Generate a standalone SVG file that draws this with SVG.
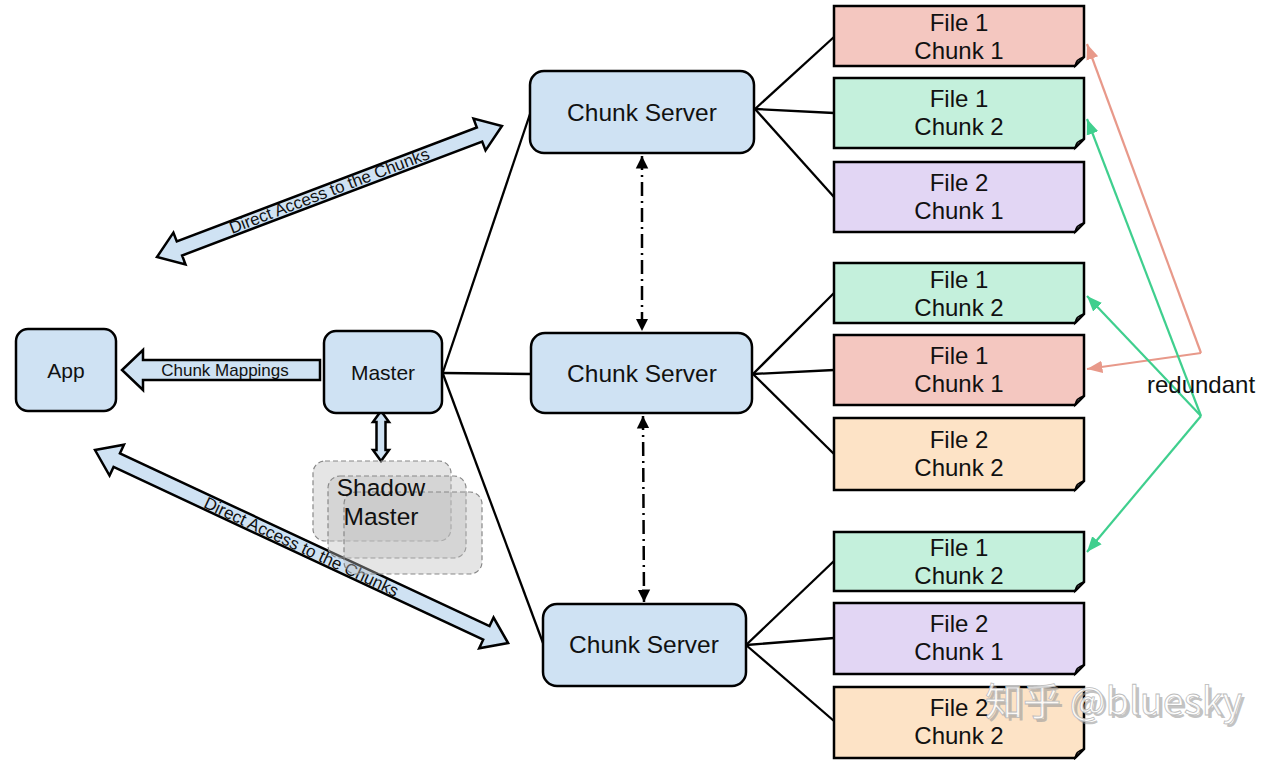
<svg xmlns="http://www.w3.org/2000/svg" width="1280" height="760" viewBox="0 0 1280 760">
<defs>
<style>
.node{fill:#cfe2f3;stroke:#000;stroke-width:2.5}
.t{font-family:"Liberation Sans",Arial,sans-serif;fill:#111;text-anchor:middle}
.ft{font-family:"Liberation Sans",Arial,sans-serif;fill:#111;text-anchor:middle;font-size:24px}
.file{stroke:#000;stroke-width:2.5}
.fold{fill:#fff;stroke:#000;stroke-width:1.5}
.conn{stroke:#000;stroke-width:2.3;fill:none}
.blk{fill:#cfe2f3;stroke:#000;stroke-width:2.5;stroke-linejoin:miter}
.dd{stroke:#000;stroke-width:2.5;fill:none;stroke-dasharray:14 5 2 5}
.red{fill:#f4c7c0}.grn{fill:#c4f0dc}.pur{fill:#e2d6f4}.org{fill:#fde3c6}
.shadow{fill:#bdbdbd;fill-opacity:0.4;stroke:#888;stroke-width:1.2;stroke-dasharray:5 3}
</style>
<marker id="ah" viewBox="0 0 10 10" refX="10" refY="5" markerWidth="5" markerHeight="6" orient="auto-start-reverse" markerUnits="strokeWidth"><path d="M0,0 L10,5 L0,10 Z" fill="#000"/></marker>
<marker id="as" viewBox="0 0 10 10" refX="10" refY="5" markerWidth="7" markerHeight="7" orient="auto"><path d="M0,1 L10,5 L0,9 Z" fill="#e8998a"/></marker>
<marker id="ag" viewBox="0 0 10 10" refX="10" refY="5" markerWidth="7" markerHeight="7" orient="auto"><path d="M0,1 L10,5 L0,9 Z" fill="#3fcf8e"/></marker>
</defs>
<rect width="1280" height="760" fill="#fff"/>

<g id="connectors">
<line class="conn" x1="443" y1="372" x2="530" y2="114"/>
<line class="conn" x1="443" y1="373" x2="531" y2="374"/>
<line class="conn" x1="443" y1="374" x2="543" y2="643"/>
<line class="conn" x1="755" y1="109" x2="834" y2="37"/>
<line class="conn" x1="755" y1="109" x2="834" y2="113"/>
<line class="conn" x1="755" y1="109" x2="834" y2="197"/>
<line class="conn" x1="753" y1="374" x2="834" y2="293"/>
<line class="conn" x1="753" y1="374" x2="834" y2="370"/>
<line class="conn" x1="753" y1="374" x2="834" y2="454"/>
<line class="conn" x1="746" y1="645" x2="834" y2="561"/>
<line class="conn" x1="746" y1="645" x2="834" y2="638"/>
<line class="conn" x1="746" y1="645" x2="834" y2="721"/>
<line class="dd" x1="642" y1="156" x2="642" y2="331" marker-start="url(#ah)" marker-end="url(#ah)"/>
<line class="dd" x1="643" y1="416" x2="644" y2="602" marker-start="url(#ah)" marker-end="url(#ah)"/>
<!-- chunk mappings -->
<polygon class="blk" points="320,360 143,360 143,350 122,370 143,390 143,380 320,380"/>
<text class="t" x="225" y="376" font-size="17" fill="#1a2440">Chunk Mappings</text>
<!-- master - shadow -->
<polygon class="blk" points="381,411 389,422 385.5,422 385.5,450 389,450 381,461 373,450 376.5,450 376.5,422 373,422"/>
<!-- direct access upper -->
<g transform="translate(157,257) rotate(-20.8)">
<polygon class="blk" points="0,0 24,-17 24,-7.5 345,-7.5 345,-17 369,0 345,17 345,7.5 24,7.5 24,17"/>
<text class="t" x="184.5" y="5" font-size="17" fill="#1a2440">Direct Access to the Chunks</text>
</g>
<!-- direct access lower -->
<g transform="translate(95,450) rotate(25.05)">
<polygon class="blk" points="0,0 24,-17 24,-7.5 432,-7.5 432,-17 456,0 432,17 432,7.5 24,7.5 24,17"/>
<text class="t" x="228" y="6" font-size="17" fill="#1a2440">Direct Access to the Chunks</text>
</g>
<!-- redundant -->
<polyline points="1201,353 1087,44" fill="none" stroke="#e8998a" stroke-width="2.2" marker-end="url(#as)"/>
<polyline points="1201,353 1087,369" fill="none" stroke="#e8998a" stroke-width="2.2" marker-end="url(#as)"/>
<polyline points="1201,416 1087,119" fill="none" stroke="#3fcf8e" stroke-width="2.2" marker-end="url(#ag)"/>
<polyline points="1201,416 1087,296" fill="none" stroke="#3fcf8e" stroke-width="2.2" marker-end="url(#ag)"/>
<polyline points="1201,416 1087,552" fill="none" stroke="#3fcf8e" stroke-width="2.2" marker-end="url(#ag)"/>
<text class="t" x="1201" y="393" font-size="24">redundant</text>
</g>

<g id="app"><rect class="node" x="16" y="329" width="100" height="82" rx="12"/><text class="t" x="66" y="378" font-size="21">App</text></g>
<g id="master"><rect class="node" x="324" y="331" width="118" height="82" rx="12"/><text class="t" x="383" y="380" font-size="21">Master</text></g>
<g id="shadow-master">
<rect class="shadow" x="313" y="461" width="138" height="80" rx="12"/>
<rect class="shadow" x="328" y="476" width="138" height="82" rx="12"/>
<rect class="shadow" x="344" y="492" width="138" height="82" rx="12"/>
<text class="t" x="381" y="496" font-size="24.5">Shadow</text>
<text class="t" x="381" y="525" font-size="24.5">Master</text>
</g>
<g id="cs1"><rect class="node" x="530" y="71" width="224" height="82" rx="14"/><text class="t" x="642" y="121" font-size="24.5">Chunk Server</text></g>
<g id="cs2"><rect class="node" x="531" y="333" width="221" height="80" rx="14"/><text class="t" x="642" y="382" font-size="24.5">Chunk Server</text></g>
<g id="cs3"><rect class="node" x="543" y="604" width="203" height="82" rx="14"/><text class="t" x="644" y="653" font-size="24.5">Chunk Server</text></g>

<g id="f1"><path class="file red" d="M834,6 H1084 V57 L1075,66 H834 Z"/><path class="fold" d="M1075,66 Q1076,59 1084,57 Q1079,61 1075,66 Z"/><text class="ft" x="959" y="31">File 1</text><text class="ft" x="959" y="59">Chunk 1</text></g>
<g id="f2"><path class="file grn" d="M834,78 H1084 V139 L1075,148 H834 Z"/><path class="fold" d="M1075,148 Q1076,141 1084,139 Q1079,143 1075,148 Z"/><text class="ft" x="959" y="107">File 1</text><text class="ft" x="959" y="135">Chunk 2</text></g>
<g id="f3"><path class="file pur" d="M834,162 H1084 V223 L1075,232 H834 Z"/><path class="fold" d="M1075,232 Q1076,225 1084,223 Q1079,227 1075,232 Z"/><text class="ft" x="959" y="191">File 2</text><text class="ft" x="959" y="219">Chunk 1</text></g>
<g id="f4"><path class="file grn" d="M834,263 H1084 V314 L1075,323 H834 Z"/><path class="fold" d="M1075,323 Q1076,316 1084,314 Q1079,318 1075,323 Z"/><text class="ft" x="959" y="288">File 1</text><text class="ft" x="959" y="316">Chunk 2</text></g>
<g id="f5"><path class="file red" d="M834,335 H1084 V396 L1075,405 H834 Z"/><path class="fold" d="M1075,405 Q1076,398 1084,396 Q1079,400 1075,405 Z"/><text class="ft" x="959" y="364">File 1</text><text class="ft" x="959" y="392">Chunk 1</text></g>
<g id="f6"><path class="file org" d="M834,418 H1084 V481 L1075,490 H834 Z"/><path class="fold" d="M1075,490 Q1076,483 1084,481 Q1079,485 1075,490 Z"/><text class="ft" x="959" y="448">File 2</text><text class="ft" x="959" y="476">Chunk 2</text></g>
<g id="f7"><path class="file grn" d="M834,532 H1084 V582 L1075,591 H834 Z"/><path class="fold" d="M1075,591 Q1076,584 1084,582 Q1079,586 1075,591 Z"/><text class="ft" x="959" y="556">File 1</text><text class="ft" x="959" y="584">Chunk 2</text></g>
<g id="f8"><path class="file pur" d="M834,603 H1084 V665 L1075,674 H834 Z"/><path class="fold" d="M1075,674 Q1076,667 1084,665 Q1079,669 1075,674 Z"/><text class="ft" x="959" y="632">File 2</text><text class="ft" x="959" y="660">Chunk 1</text></g>
<g id="f9"><path class="file org" d="M834,687 H1084 V749 L1075,758 H834 Z"/><path class="fold" d="M1075,758 Q1076,751 1084,749 Q1079,753 1075,758 Z"/><text class="ft" x="959" y="716">File 2</text><text class="ft" x="959" y="744">Chunk 2</text></g>

<g id="watermark" font-family="'Noto Sans CJK SC','Liberation Sans',sans-serif" font-size="38">
<text x="988" y="718" fill="#9a9a9a" fill-opacity="0.6">知乎 @bluesky</text>
<text x="985" y="715" fill="#fff" fill-opacity="0.85" stroke="#bbb" stroke-width="0.8">知乎 @bluesky</text>
</g>
</svg>
